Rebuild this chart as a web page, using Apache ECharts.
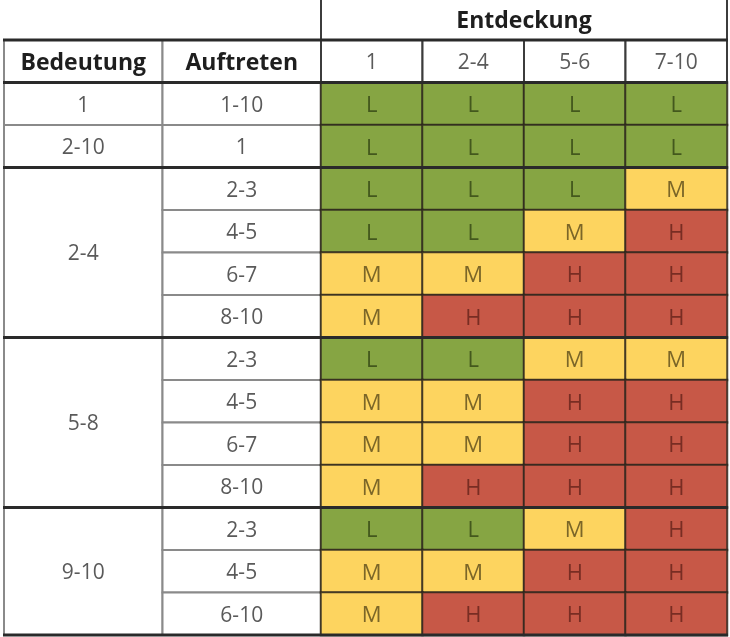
<!DOCTYPE html>
<html>
<head>
<meta charset="utf-8">
<script src="https://cdn.jsdelivr.net/npm/echarts@6/dist/echarts.min.js"></script>
<style>
html,body{margin:0;padding:0;background:#fff;}
#chart{width:730px;height:637px;}
</style>
</head>
<body>
<div id="chart"></div>
<script>
// ---- data ----
const titleTop = 'Entdeckung';
const headerLeft = ['Bedeutung', 'Auftreten'];
const entdeckung = ['1', '2-4', '5-6', '7-10'];
const bedeutung = ['1', '2-10', '2-4', '5-8', '9-10'];
const bedeutungSpan = [1, 1, 4, 4, 3];
const auftreten = ['1-10', '1', '2-3', '4-5', '6-7', '8-10', '2-3', '4-5', '6-7', '8-10', '2-3', '4-5', '6-10'];
const risiko = [
  ['L', 'L', 'L', 'L'],
  ['L', 'L', 'L', 'L'],
  ['L', 'L', 'L', 'M'],
  ['L', 'L', 'M', 'H'],
  ['M', 'M', 'H', 'H'],
  ['M', 'H', 'H', 'H'],
  ['L', 'L', 'M', 'M'],
  ['M', 'M', 'H', 'H'],
  ['M', 'M', 'H', 'H'],
  ['M', 'H', 'H', 'H'],
  ['L', 'L', 'M', 'H'],
  ['M', 'M', 'H', 'H'],
  ['M', 'H', 'H', 'H']
];
const levels = ['L', 'M', 'H'];
// groups that start a block separated by heavy rules
const heavyGroupStarts = [0, 2, 3, 4];

// ---- styles ----
const FONT = '"Open Sans", "DejaVu Sans", sans-serif';
const fillColor = { L: '#86a543', M: '#fdd45f', H: '#c75847' };
const textColor = { L: '#43581d', M: '#7b6628', H: '#782d23' };
const TEXT_SHIFT = 2;

// ---- derived tables ----
const rowCats = ['h'].concat(auftreten.map((_, i) => 'r' + (i + 1)));
const leftCells = [];
headerLeft.forEach((t, i) => leftCells.push({ v: [i, 0, 1], text: t, bold: true }));
let r = 1;
const groupStartRows = [];
bedeutung.forEach((t, i) => {
  groupStartRows.push(r);
  leftCells.push({ v: [0, r, bedeutungSpan[i]], text: t, bold: false });
  r += bedeutungSpan[i];
});
auftreten.forEach((t, i) => leftCells.push({ v: [1, i + 1, 1], text: t, bold: false }));

const heavyEdges = [[0, 0, 0], [0, 1, 0]];
heavyGroupStarts.forEach(g => { if (groupStartRows[g] !== 1) heavyEdges.push([0, groupStartRows[g], 0]); });
heavyEdges.push([0, rowCats.length - 1, 1]);

const matrixData = [];
risiko.forEach((row, ri) => row.forEach((lv, ci) => {
  matrixData.push({
    value: [ci, ri + 1, levels.indexOf(lv)],
    itemStyle: { color: fillColor[lv] },
    label: { color: textColor[lv] }
  });
}));

function cellRect(api, col, row, span) {
  const c = api.coord([col, row]);
  const s = api.size([1, 1]);
  return { x: c[0] - s[0] / 2, y: c[1] - s[1] / 2, width: s[0], height: s[1] * span };
}

const chart = echarts.init(document.getElementById('chart'), null, { renderer: 'canvas' });
const hiddenCat = (data, extra) => Object.assign({
  type: 'category', data: data, show: false, axisLine: { show: false }, axisTick: { show: false },
  axisLabel: { show: false }, splitLine: { show: false }
}, extra || {});

chart.setOption({
  animation: false,
  backgroundColor: '#ffffff',
  grid: [
    { left: 4, top: 40, width: 317, height: 595 },
    { left: 321, top: 40, width: 406, height: 595 },
    { left: 321, top: 0, width: 406, height: 40 }
  ],
  xAxis: [
    hiddenCat(headerLeft, { gridIndex: 0 }),
    hiddenCat(entdeckung, { gridIndex: 1 }),
    hiddenCat([titleTop], { gridIndex: 2 })
  ],
  yAxis: [
    hiddenCat(rowCats, { gridIndex: 0, inverse: true }),
    hiddenCat(rowCats, { gridIndex: 1, inverse: true }),
    hiddenCat(['t'], { gridIndex: 2 })
  ],
  series: [
    {
      type: 'custom', xAxisIndex: 0, yAxisIndex: 0, silent: true, z: 2,
      encode: { x: 0, y: 1 },
      data: leftCells.map(c => c.v),
      renderItem: function (params, api) {
        const cell = leftCells[params.dataIndex];
        const rect = cellRect(api, api.value(0), api.value(1), api.value(2));
        return {
          type: 'rect', shape: rect,
          style: { fill: '#ffffff', stroke: '#8a8a8a', lineWidth: 2 },
          textContent: {
            style: {
              text: cell.text,
              fill: cell.bold ? '#1e1e1e' : '#5a5a5a',
              font: (cell.bold ? 'bold 23px ' : '21px ') + FONT
            }
          },
          textConfig: { position: 'inside', offset: [0, TEXT_SHIFT] }
        };
      }
    },
    {
      type: 'heatmap', xAxisIndex: 1, yAxisIndex: 1, silent: true, z: 2,
      data: matrixData,
      itemStyle: { borderColor: 'rgba(45,38,28,0.85)', borderWidth: 2 },
      label: {
        show: true, fontSize: 22, fontFamily: FONT, offset: [0, TEXT_SHIFT],
        formatter: p => levels[p.value[2]]
      },
      emphasis: { disabled: true }
    },
    {
      type: 'custom', xAxisIndex: 1, yAxisIndex: 1, silent: true, z: 3,
      encode: { x: 0, y: 1 },
      data: entdeckung.map((_, i) => [i, 0]),
      renderItem: function (params, api) {
        const rect = cellRect(api, api.value(0), api.value(1), 1);
        return {
          type: 'rect', shape: rect,
          style: { fill: '#ffffff', stroke: '#3c3c3c', lineWidth: 2 },
          textContent: { style: { text: entdeckung[params.dataIndex], fill: '#5a5a5a', font: '21px ' + FONT } },
          textConfig: { position: 'inside', offset: [0, TEXT_SHIFT] }
        };
      }
    },
    {
      type: 'custom', xAxisIndex: 2, yAxisIndex: 2, silent: true, z: 3,
      encode: { x: 0, y: 1 },
      data: [[0, 0]],
      renderItem: function (params, api) {
        const rc = cellRect(api, 0, 0, 1);
        return {
          type: 'group',
          children: [
            { type: 'line', shape: { x1: rc.x, y1: rc.y, x2: rc.x, y2: rc.y + rc.height }, style: { stroke: '#3c3c3c', lineWidth: 2 } },
            { type: 'line', shape: { x1: rc.x + rc.width, y1: rc.y, x2: rc.x + rc.width, y2: rc.y + rc.height }, style: { stroke: '#3c3c3c', lineWidth: 2 } },
            { type: 'text', style: { x: rc.x + rc.width / 2, y: rc.y + rc.height / 2 + 1, text: titleTop, align: 'center', verticalAlign: 'middle', fill: '#1e1e1e', font: 'bold 23px ' + FONT } }
          ]
        };
      }
    },
    {
      type: 'custom', xAxisIndex: 0, yAxisIndex: 0, silent: true, z: 5,
      encode: { x: 0, y: 1 },
      data: heavyEdges,
      renderItem: function (params, api) {
        const a = cellRect(api, 0, api.value(1), 1);
        const b = cellRect(api, headerLeft.length - 1, api.value(1), 1);
        const y = api.value(2) ? a.y + a.height : a.y;
        return { type: 'line', shape: { x1: a.x - 1, y1: y, x2: b.x + b.width, y2: y }, style: { stroke: '#2a2a2a', lineWidth: 3 } };
      }
    },
    {
      type: 'custom', xAxisIndex: 1, yAxisIndex: 1, silent: true, z: 5,
      encode: { x: 0, y: 1 },
      data: heavyEdges,
      renderItem: function (params, api) {
        const a = cellRect(api, 0, api.value(1), 1);
        const b = cellRect(api, entdeckung.length - 1, api.value(1), 1);
        const y = api.value(2) ? a.y + a.height : a.y;
        return { type: 'line', shape: { x1: a.x, y1: y, x2: b.x + b.width + 1, y2: y }, style: { stroke: '#2a2a2a', lineWidth: 3 } };
      }
    }
  ]
});
</script>
</body>
</html>
